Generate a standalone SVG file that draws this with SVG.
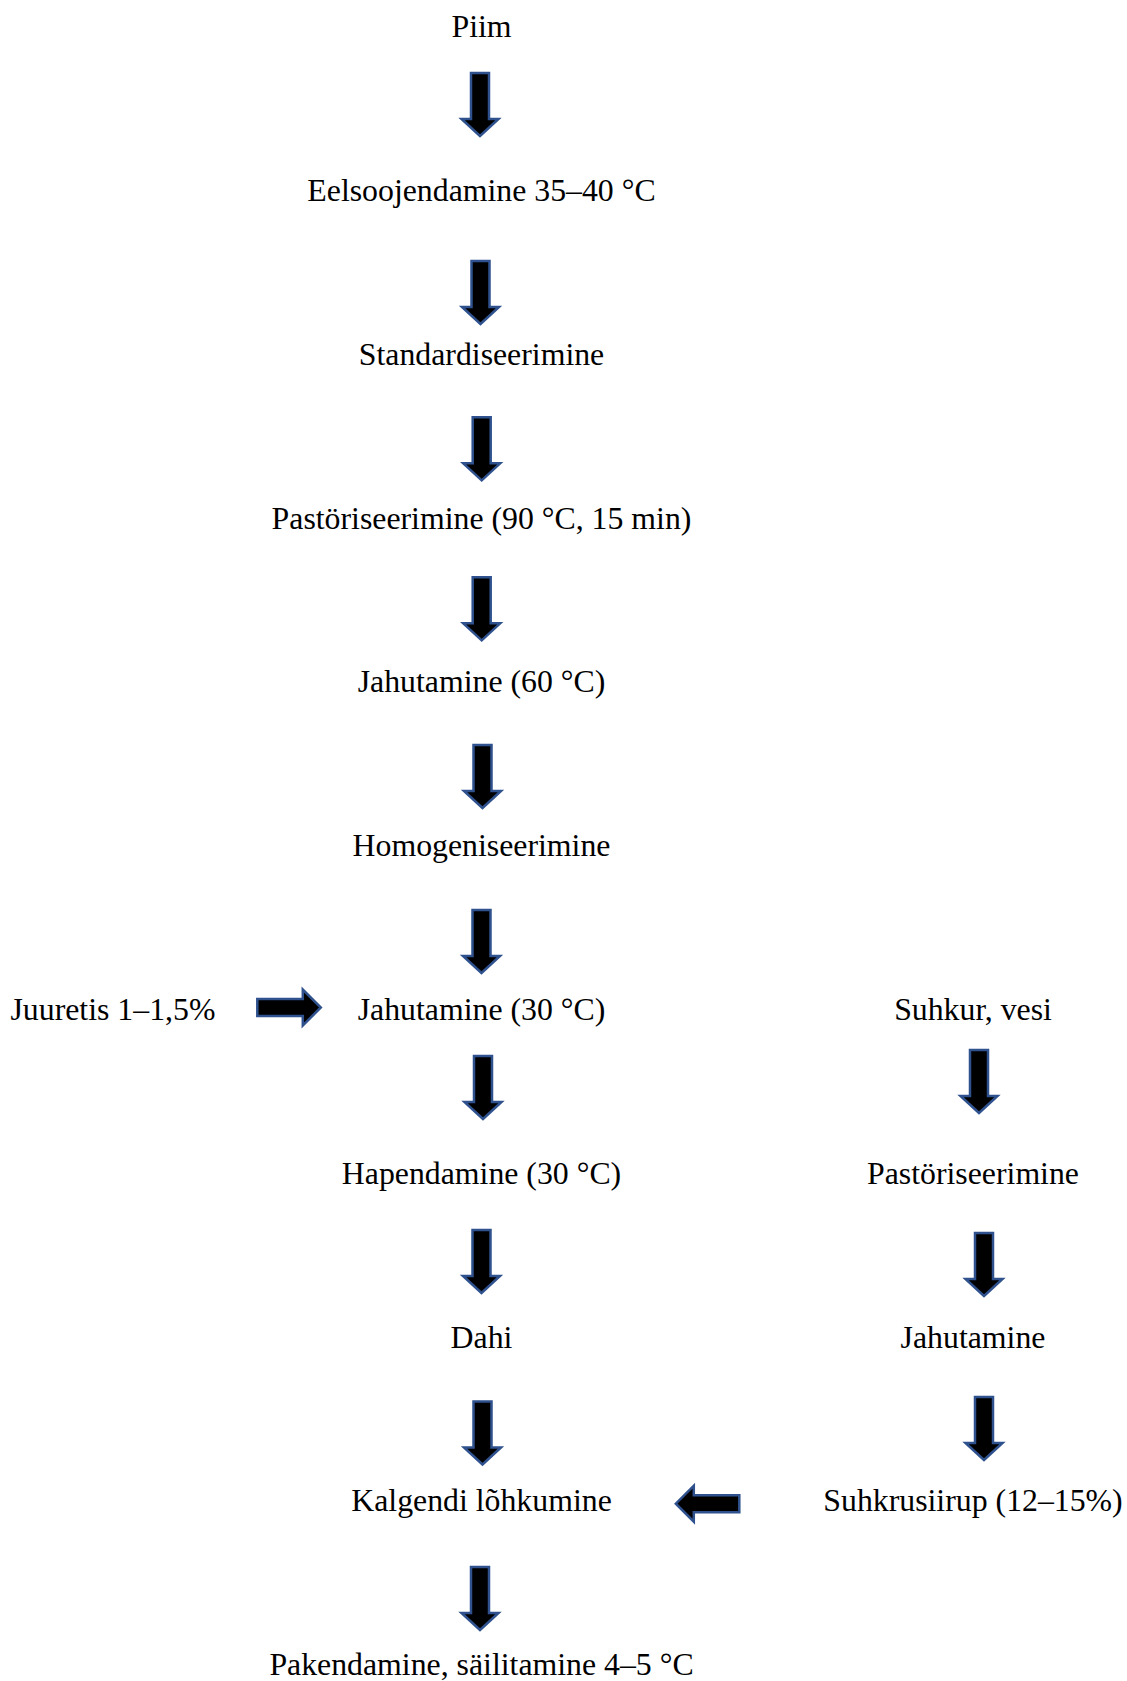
<svg xmlns="http://www.w3.org/2000/svg" xmlns:xlink="http://www.w3.org/1999/xlink" width="1127" height="1681" viewBox="0 0 1127 1681">
  <style>
    .lbl { font-family: "Liberation Serif", "Times New Roman", serif; font-size: 31.8px; fill: #000; }
    .mid { text-anchor: middle; }
    .arrow { fill: #000; stroke: #2F528F; stroke-width: 2.5; stroke-linejoin: miter; }
  </style>
  <defs>
    <!-- block arrow pointing down, origin at top centre of shaft -->
    <path id="down" d="M-9,0 H9 V46 H18.5 L0,63 L-18.5,46 H-9 Z"/>
    <!-- block arrow pointing right, origin at left end, vertical centre -->
    <path id="right" d="M0,-8.5 H45.5 V-18 L63.5,0 L45.5,18 V8.5 H0 Z"/>
  </defs>
  <rect width="1127" height="1681" fill="#fff"/>

  <!-- main process column -->
  <g id="n-piim"><text class="lbl mid" x="481.5" y="37.2">Piim</text></g>
  <g id="n-eelsoojendamine"><text class="lbl mid" x="481.5" y="201">Eelsoojendamine 35–40 °C</text></g>
  <g id="n-standardiseerimine"><text class="lbl mid" x="481.5" y="364.8">Standardiseerimine</text></g>
  <g id="n-pastoriseerimine"><text class="lbl mid" x="481.5" y="528.6">Pastöriseerimine (90 °C, 15 min)</text></g>
  <g id="n-jahutamine60"><text class="lbl mid" x="481.5" y="692.4">Jahutamine (60 °C)</text></g>
  <g id="n-homogeniseerimine"><text class="lbl mid" x="481.5" y="856.2">Homogeniseerimine</text></g>
  <g id="n-jahutamine30"><text class="lbl mid" x="481.5" y="1020">Jahutamine (30 °C)</text></g>
  <g id="n-hapendamine"><text class="lbl mid" x="481.5" y="1183.8">Hapendamine (30 °C)</text></g>
  <g id="n-dahi"><text class="lbl mid" x="481.5" y="1347.6">Dahi</text></g>
  <g id="n-lohkumine"><text class="lbl mid" x="481.5" y="1511.4">Kalgendi lõhkumine</text></g>
  <g id="n-pakendamine"><text class="lbl mid" x="481.5" y="1675.2">Pakendamine, säilitamine 4–5 °C</text></g>

  <!-- starter culture input -->
  <g id="n-juuretis"><text class="lbl" x="10.5" y="1020">Juuretis 1–1,5%</text></g>

  <!-- syrup preparation column -->
  <g id="n-suhkur"><text class="lbl mid" x="973" y="1020">Suhkur, vesi</text></g>
  <g id="n-siirup-past"><text class="lbl mid" x="973" y="1183.8">Pastöriseerimine</text></g>
  <g id="n-siirup-jahut"><text class="lbl mid" x="973" y="1347.6">Jahutamine</text></g>
  <g id="n-siirup"><text class="lbl mid" x="973" y="1511.4">Suhkrusiirup (12–15%)</text></g>

  <!-- connectors -->
  <g id="connectors" class="arrow">
    <use xlink:href="#down" href="#down" x="480" y="73"/>
    <use xlink:href="#down" href="#down" x="480.5" y="261"/>
    <use xlink:href="#down" href="#down" x="481.7" y="417.3"/>
    <use xlink:href="#down" href="#down" x="481.7" y="577.3"/>
    <use xlink:href="#down" href="#down" x="482.5" y="745"/>
    <use xlink:href="#down" href="#down" x="481.5" y="910"/>
    <use xlink:href="#down" href="#down" x="483" y="1056"/>
    <use xlink:href="#down" href="#down" x="481.5" y="1230"/>
    <use xlink:href="#down" href="#down" x="482.5" y="1401.5"/>
    <use xlink:href="#down" href="#down" x="480" y="1567"/>
    <use xlink:href="#down" href="#down" x="979" y="1050"/>
    <use xlink:href="#down" href="#down" x="984" y="1233"/>
    <use xlink:href="#down" href="#down" x="984" y="1397"/>
    <use xlink:href="#right" href="#right" x="257.3" y="1007.5"/>
    <use xlink:href="#right" href="#right" transform="translate(739.3,1503.7) scale(-1,1)"/>
  </g>
</svg>
